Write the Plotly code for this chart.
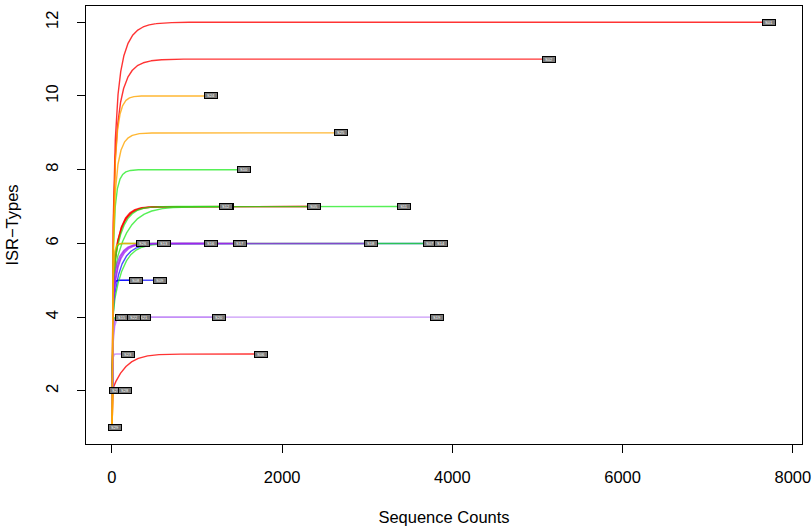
import numpy as np
import plotly.graph_objects as go

# ---------------- data ----------------
# read counts per ISR type for each sample (rarefaction curves are computed from these)
sample_names = [
    "S01", "S02", "S03", "S04", "S05", "S06", "S07", "S08", "S09", "S10",
    "S11", "S12", "S13", "S14", "S15", "S16", "S17", "S18", "S19", "S20",
    "S21", "S22", "S23", "S24", "S25", "S26", "S27", "S28", "S29",
]
type_counts = [
    [2500, 1500, 1000, 800, 600, 400, 300, 250, 150, 100, 70, 50],   # S01 -> 12
    [1500, 1000, 800, 600, 450, 300, 200, 120, 80, 50, 35],          # S02 -> 11
    [550, 350, 200, 150, 70, 19, 12],                                # S03 -> 7
    [900, 600, 400, 250, 170, 34, 20],                               # S04 -> 7
    [950, 600, 380, 250, 140, 30, 20],                               # S05 -> 7
    [1200, 540, 11],                                                 # S06 -> 3
    [1500, 1000, 700, 450, 60, 27],                                  # S07 -> 6
    [100, 80, 50, 30, 22],                                           # S08 -> 5
    [200, 160, 100, 60, 44],                                         # S09 -> 5
    [500, 350, 250, 180, 120, 80, 45, 26],                           # S10 -> 8
    [1400, 900, 550, 350, 190, 25, 16],                              # S11 -> 7
    [500, 350, 220, 150, 100, 15, 10],                               # S12 -> 7
    [200, 150, 110, 80, 45, 26],                                     # S13 -> 6
    [1500, 1100, 700, 500, 40, 26],                                  # S14 -> 6
    [50, 35, 20, 13],                                                # S15 -> 4
    [420, 300, 220, 150, 60, 13],                                    # S16 -> 6
    [600, 400, 250, 200, 40, 14],                                    # S17 -> 6
    [1200, 800, 500, 420, 90, 33],                                   # S18 -> 6
    [2000, 1200, 450, 169],                                          # S19 -> 4
    [600, 400, 180, 77],                                             # S20 -> 4
    [180, 110, 60, 26],                                              # S21 -> 4
    [120, 80, 40, 19],                                               # S22 -> 4
    [100, 60, 28],                                                   # S23 -> 3
    [400, 250, 150, 110, 80, 60, 45, 30, 20, 18],                    # S24 -> 10
    [900, 600, 400, 300, 200, 130, 80, 50, 30],                      # S25 -> 9
    [120, 90, 60, 45, 30, 19],                                       # S26 -> 6
    [30, 17],                                                        # S27 -> 2
    [100, 53],                                                       # S28 -> 2
    [35],                                                            # S29 -> 1
]
sample_group = [
    "red", "red", "red", "red", "red", "red",
    "blue", "blue", "blue",
    "green", "green", "green", "green", "green", "green",
    "purple", "purple", "purple",
    "lavender", "lavender", "lavender", "lavender", "lavender",
    "orange", "orange", "orange", "orange", "orange", "orange",
]
x_ticks = [0, 2000, 4000, 6000, 8000]
y_ticks = [2, 4, 6, 8, 10, 12]

# ---------------- style ----------------
GROUP_COLORS = {
    "red": "rgba(255,0,0,0.8)",
    "green": "rgba(30,235,30,0.75)",
    "purple": "rgba(160,32,240,0.75)",
    "lavender": "rgba(180,110,245,0.7)",
    "blue": "rgba(0,0,255,0.7)",
    "orange": "rgba(255,165,0,0.8)",
}
FONT = "Liberation Sans, Arial, Helvetica, sans-serif"


def rarefy(counts):
    c = np.asarray(counts, dtype=float)
    N = int(c.sum())
    k = np.arange(N, dtype=float)
    S = np.zeros(N)
    for ni in c:
        f = np.clip(N - ni - k, 0, None) / (N - k)
        S += 1.0 - np.cumprod(f)
    n_all = np.arange(1, N + 1)
    idx = np.unique(np.concatenate([
        np.arange(0, min(N, 1500)),
        np.linspace(0, N - 1, 300).round().astype(int),
    ]))
    return n_all[idx], S[idx], N, S[-1]


fig = go.Figure()
annotations = []
for name, counts, grp in zip(sample_names, type_counts, sample_group):
    n, s, N, Smax = rarefy(counts)
    fig.add_trace(go.Scatter(
        x=n, y=s, mode="lines",
        line=dict(color=GROUP_COLORS[grp], width=1.4),
        hoverinfo="skip", showlegend=False,
    ))
    annotations.append(dict(
        x=N, y=Smax, xref="x", yref="y", text=name, showarrow=False,
        font=dict(size=4, color="white", family=FONT),
        bgcolor="#7a7a7a", bordercolor="black", borderwidth=1, borderpad=0,
        width=12, height=5, xanchor="center", yanchor="middle",
    ))

fig.update_layout(
    width=812, height=529,
    margin=dict(l=86, r=10, t=6, b=85),
    paper_bgcolor="white", plot_bgcolor="white",
    font=dict(family=FONT, size=16.5, color="black"),
    annotations=annotations,
    showlegend=False,
)
fig.update_xaxes(
    range=[-305, 8108], tickvals=x_ticks, ticktext=[str(v) for v in x_ticks],
    ticks="outside", ticklen=8, tickwidth=1, tickcolor="black",
    showline=True, linecolor="black", linewidth=1, mirror=True,
    showgrid=False, zeroline=False, automargin=False,
    ticklabelstandoff=10,
    title=dict(text="Sequence Counts", standoff=26, font=dict(size=16.5)),
    tickfont=dict(size=16.5),
)
fig.update_yaxes(
    range=[0.56, 12.44], tickvals=y_ticks, ticktext=[str(v) for v in y_ticks],
    ticks="outside", ticklen=8, tickwidth=1, tickcolor="black",
    showline=True, linecolor="black", linewidth=1, mirror=True,
    showgrid=False, zeroline=False, tickangle=-90, automargin=False,
    ticklabelstandoff=12,
    title=dict(text="ISR\u2212Types", standoff=20, font=dict(size=16.5)),
    tickfont=dict(size=16.5),
)

fig.write_html("out.html", config={"displayModeBar": False},
               post_script="document.body.style.margin='0';")
